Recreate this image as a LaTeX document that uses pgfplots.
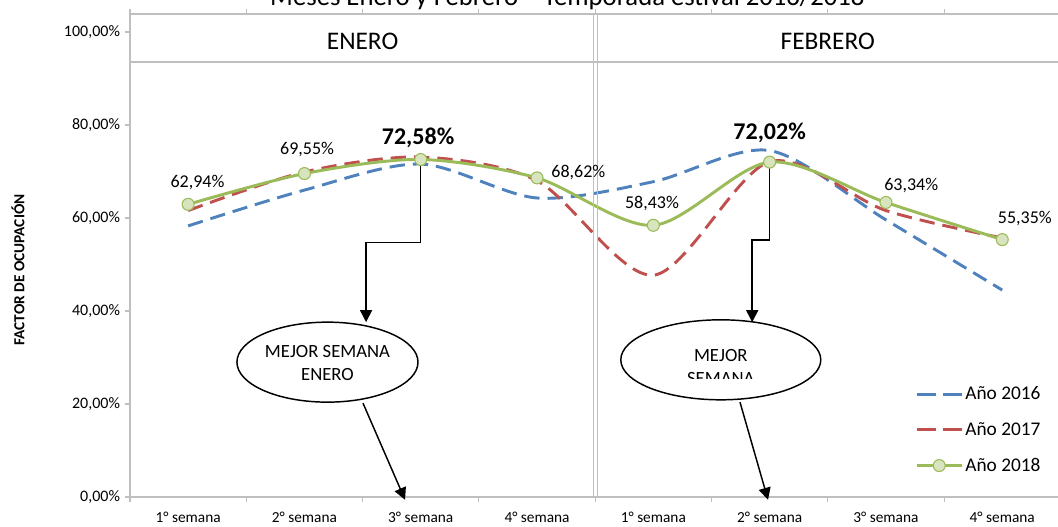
\documentclass[border=0pt]{standalone}
\usepackage{pgfplots}
\pgfplotsset{compat=1.18}
\usepackage{pgfplotstable}
\usepackage{fontspec}
\setmainfont{Carlito}
\usetikzlibrary{arrows.meta}

\definecolor{c16}{HTML}{4F81BD}
\definecolor{c17}{HTML}{C0504D}
\definecolor{c18}{HTML}{9BBB59}
\definecolor{c18f}{HTML}{D7E4BD}
\definecolor{marco}{HTML}{BFBFBF}

% factor de ocupacion por semana (enero: 0-3, febrero: 4-7)
\pgfplotstableread{
x a16 a17 a18
0 58.3 61.6 62.94
1 66.0 69.9 69.55
2 71.6 73.1 72.58
3 64.3 68.0 68.62
4 67.8 47.7 58.43
5 74.5 72.1 72.02
6 59.6 61.6 63.34
7 44.5 55.7 55.35
}\datos

\begin{document}
\begin{tikzpicture}
\useasboundingbox (-97.5pt,-22.5pt) rectangle (696pt,372.75pt);
\begin{axis}[
    scale only axis,
    width=697.8pt, height=362.25pt,
    xmin=-0.5, xmax=7.5, ymin=0, ymax=103.87,
    clip=false,
    axis line style={marco, line width=1.3pt},
    xtick={0,...,7},
    xticklabels={1° semana,2° semana,3° semana,4° semana,1° semana,2° semana,3° semana,4° semana},
    major x tick style={draw=none},
    minor xtick={-0.5,0.5,...,7.5},
    minor tick length=4pt,
    minor x tick style={marco, line width=0.8pt},
    ytick={0,20,...,100},
    yticklabels={{0,00\%},{20,00\%},{40,00\%},{60,00\%},{80,00\%},{100,00\%}},
    major tick length=4pt,
    major y tick style={marco, line width=0.8pt},
    tick align=outside,
    xticklabel style={font=\fontsize{11.5}{13}\selectfont, yshift=-3.5pt},
    yticklabel style={font=\fontsize{12}{14}\selectfont},
    legend style={at={(rel axis cs:0.84,0.24)}, anchor=north west,
      draw=none, fill=none, font=\fontsize{14.5}{17}\selectfont,
      row sep=11.5pt, cells={anchor=west}},
    legend image code/.code={\draw[mark repeat=2,mark phase=2,#1]
      plot coordinates {(0pt,0pt)(16.5pt,0pt)(33pt,0pt)};},
  ]
\addplot[c16, line width=2.2pt, dash pattern=on 11.5pt off 6pt, smooth,
  legend image post style={dash pattern=on 14pt off 5pt}] table[x=x,y=a16] {\datos};
\addplot[c17, line width=2.2pt, dash pattern=on 11.5pt off 6pt, smooth,
  legend image post style={dash pattern=on 14pt off 5pt}] table[x=x,y=a17] {\datos};
\addplot[c18, line width=2.2pt, smooth, mark=*, mark size=4.5pt,
  mark options={fill=c18f, draw=c18, line width=0.8pt}] table[x=x,y=a18] {\datos};
\legend{Año 2016,Año 2017,Año 2018}

% cabecera de meses
\draw[marco, line width=1.3pt] (axis cs:-0.5,93.55) -- (axis cs:7.5,93.55);
\draw[marco, line width=1pt] (axis cs:3.483,0) -- (axis cs:3.483,103.87);
\draw[marco, line width=1pt] (axis cs:3.517,0) -- (axis cs:3.517,103.87);
\node[font=\fontsize{19}{22}\selectfont] at (axis cs:1.5,97.9) {ENERO};
\node[font=\fontsize{19}{22}\selectfont] at (axis cs:5.5,97.9) {FEBRERO};
\node[anchor=base, font=\fontsize{20}{24}\selectfont] at (axis cs:3.26,105.8)
  {Meses Enero y Febrero -- Temporada estival 2016/2018};

% etiquetas de datos
\begin{scope}[font=\fontsize{13.5}{16}\selectfont]
\node at (axis cs:0,62.94) [yshift=16pt, xshift=7pt] {62,94\%};
\node at (axis cs:1,69.55) [yshift=18pt, xshift=2pt] {69,55\%};
\node at (axis cs:3,68.62) [xshift=31pt, yshift=4pt] {68,62\%};
\node at (axis cs:4,58.43) [yshift=16pt, xshift=-1pt] {58,43\%};
\node at (axis cs:6,63.34) [yshift=13pt, xshift=19pt] {63,34\%};
\node at (axis cs:7,55.35) [yshift=16pt, xshift=17pt] {55,35\%};
\end{scope}
\node[font=\bfseries\fontsize{18}{21}\selectfont] at (axis cs:2,72.58) [yshift=16pt, xshift=-2pt] {72,58\%};
\node[font=\bfseries\fontsize{18}{21}\selectfont] at (axis cs:5,72.02) [yshift=22pt] {72,02\%};

% conectores y elipses
\draw[line width=1.1pt, -{Triangle[length=9pt,width=9pt]}]
  (axis cs:2,72.58) -- (axis cs:2,54.7) -- (axis cs:1.53,54.7) -- (axis cs:1.53,37.6);
\draw[line width=1.1pt, -{Triangle[length=9pt,width=9pt]}]
  (axis cs:5,72.02) -- (axis cs:5,55.3) -- (axis cs:4.85,55.3) -- (axis cs:4.85,37.6);
\draw[line width=1.1pt, fill=white] (axis cs:1.198,29.0) ellipse [x radius=67.9pt, y radius=30pt];
\node[align=center, font=\fontsize{14}{17.5}\selectfont] at (axis cs:1.198,28.8) {MEJOR SEMANA\\ENERO};
\draw[line width=1.1pt, fill=white] (axis cs:4.58,29.5) ellipse [x radius=75pt, y radius=30pt];
\begin{scope}
\clip (axis cs:4.0,25.4) rectangle (axis cs:5.2,40);
\node[align=center, font=\fontsize{14}{17.5}\selectfont] at (axis cs:4.58,27.9) {MEJOR\\SEMANA};
\end{scope}
\draw[line width=1.1pt, -{Triangle[length=9pt,width=9pt]}] (axis cs:1.503,20.2) -- (axis cs:1.865,-0.6);
\draw[line width=1.1pt, -{Triangle[length=9pt,width=9pt]}] (axis cs:4.745,20.4) -- (axis cs:4.986,-0.6);

\node[rotate=90, font=\bfseries\fontsize{11.5}{13}\selectfont] at (rel axis cs:-0.1204,0.47) {FACTOR DE OCUPACIÓN};
\end{axis}
\end{tikzpicture}
\end{document}
